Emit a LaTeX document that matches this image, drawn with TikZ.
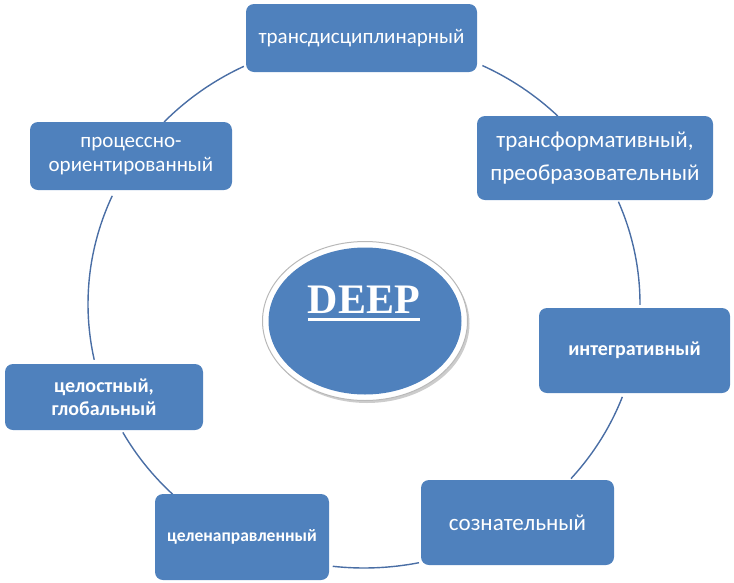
\documentclass[tikz,border=0pt]{standalone}
\usepackage{fontspec}
\setmainfont{Carlito}
\newfontfamily\deepfont{Liberation Serif}
\usetikzlibrary{shapes.geometric,calc,shadows}
\definecolor{boxblue}{RGB}{79,129,189}
\definecolor{linkblue}{RGB}{74,110,165}
\begin{document}
\begin{tikzpicture}[x=1pt,y=-1pt,
  box/.style={rectangle, rounded corners=8pt, fill=boxblue, text=white, align=center, inner sep=0pt},
  link/.style={draw=linkblue, line width=1.4pt}]
\useasboundingbox (0,0) rectangle (734,582);
\coordinate (O) at (364,304);
% cycle arcs
\draw[link] ($(O)+(64.6:276pt and 264pt)$) arc[start angle=64.6,end angle=45.4,x radius=276pt,y radius=264pt];
\draw[link] ($(O)+(22.8:276pt and 264pt)$) arc[start angle=22.8,end angle=-0.2,x radius=276pt,y radius=264pt];
\draw[link] ($(O)+(-20.6:276pt and 264pt)$) arc[start angle=-20.6,end angle=-41.4,x radius=276pt,y radius=264pt];
\draw[link] ($(O)+(-78.5:276pt and 264pt)$) arc[start angle=-78.5,end angle=-96.5,x radius=276pt,y radius=264pt];
\draw[link] ($(O)+(-133.9:276pt and 264pt)$) arc[start angle=-133.9,end angle=-150.9,x radius=276pt,y radius=264pt];
\draw[link] ($(O)+(-167.8:276pt and 264pt)$) arc[start angle=-167.8,end angle=-204.2,x radius=276pt,y radius=264pt];
\draw[link] ($(O)+(136.4:276pt and 264pt)$) arc[start angle=136.4,end angle=115.8,x radius=276pt,y radius=264pt];
% boxes
\node[box, minimum width=231pt, minimum height=68pt, font=\fontsize{21}{24}\selectfont] (b1) at (361.5,38) {трансдисциплинарный};
\node[box, minimum width=236pt, minimum height=84pt, font=\fontsize{23}{33}\selectfont] (b2) at (595,158) {трансформативный,\\преобразовательный};
\node[box, minimum width=191pt, minimum height=85pt, font=\bfseries\fontsize{20}{23}\selectfont] (b3) at (634.5,350.5) {интегративный};
\node[box, minimum width=193pt, minimum height=85pt, font=\fontsize{23}{26}\selectfont] (b4) at (517.5,522.5) {сознательный};
\node[box, minimum width=174pt, minimum height=86pt, font=\bfseries\fontsize{17.5}{20}\selectfont] (b5) at (242,537) {целенаправленный};
\node[box, minimum width=198pt, minimum height=66pt, font=\bfseries\fontsize{20}{23}\selectfont] (b6) at (104,397) {целостный,\\глобальный};
\node[box, minimum width=202pt, minimum height=68pt, font=\fontsize{21}{23.5}\selectfont] (b7) at (131,156) {процессно-\\ориентированный};
% centre
\node[ellipse, minimum width=205pt, minimum height=159pt, fill=white, draw=gray!55, line width=1pt, drop shadow={shadow xshift=2pt, shadow yshift=-2.5pt, opacity=.4}] (rim) at (365,321) {};
\node[ellipse, minimum width=193pt, minimum height=147pt, fill=boxblue, inner sep=0pt] (core) at (365,321) {};
\node[text=white, inner sep=0pt, anchor=base, font=\deepfont\bfseries\fontsize{42}{42}\selectfont] (deep) at (364,313) {DEEP};
\draw[white, line width=3pt] ($(deep.base west)+(0,6)$) -- ($(deep.base east)+(0,6)$);
\end{tikzpicture}
\end{document}
